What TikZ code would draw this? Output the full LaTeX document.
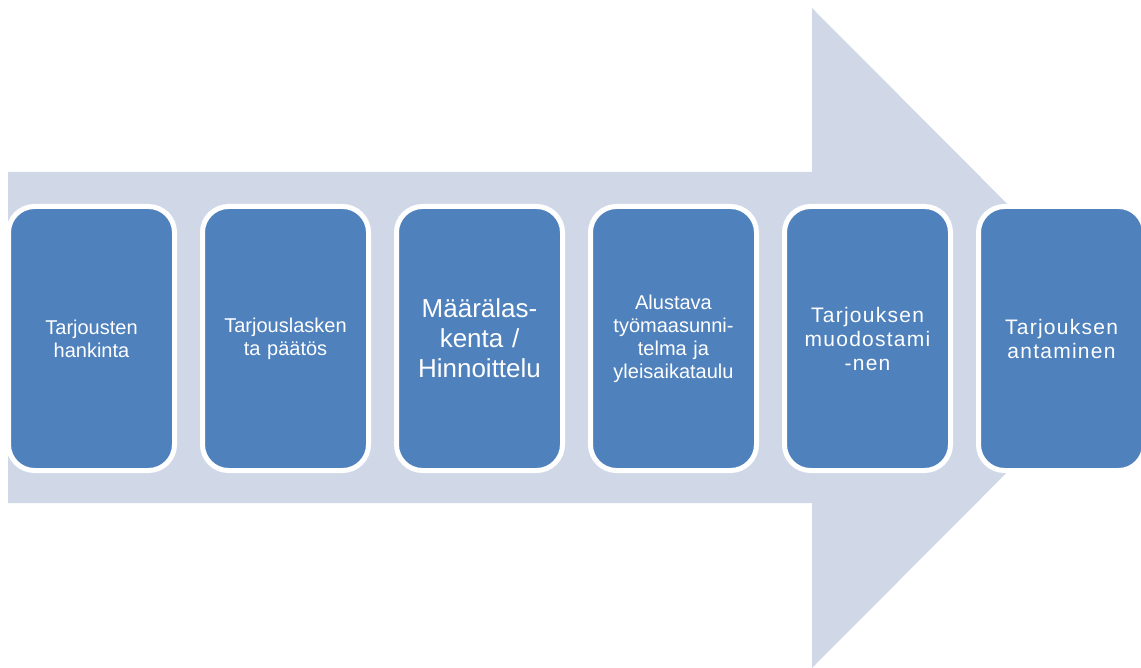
\documentclass[tikz,border=0pt]{standalone}
\usepackage{fontspec}
\setmainfont{Liberation Sans}
\usetikzlibrary{positioning}
\definecolor{arrowgrey}{HTML}{D0D8E8}
\definecolor{boxblue}{HTML}{4F81BD}
\tikzset{
  phase/.style={draw=white, line width=5pt, fill=boxblue, rounded corners=26pt,
    minimum width=166pt, minimum height=264pt, inner sep=0pt, outer sep=0pt,
    text=white, align=center, text width=152pt, font=\fontsize{20}{23}\selectfont},
  wide/.style={font=\fontsize{21}{24}\selectfont\addfontfeatures{LetterSpace=6}}
}

\begin{document}
\begin{tikzpicture}[x=1pt,y=-1pt,node distance=28pt]
      \clip (0,0) rectangle (1141,668);
      \def\xbody{812}  % start of arrow head
      \def\ytop{172}   % top of arrow body
      \def\ybot{503}   % bottom of arrow body
      \fill[arrowgrey] (8,\ytop) -- (\xbody,\ytop) -- (\xbody,8) -- (1141,338)
        -- (\xbody,668) -- (\xbody,\ybot) -- (8,\ybot) -- cycle;
      %
      \node[phase] (s1) at (91.5,338.5) {Tarjousten\\hankinta};
      \node[phase, right=of s1] (s2) {Tarjouslasken\\ta päätös};
      \node[phase, right=of s2, font=\fontsize{26}{30}\selectfont] (s3) {Määrälas-\\kenta /\\Hinnoittelu};
      \node[phase, right=of s3] (s4) {Alustava\\työmaasunni-\\telma ja\\yleisaikataulu};
      \node[phase, wide, right=of s4] (s5) {Tarjouksen\\muodostami\\-nen};
      \node[phase, wide, right=of s5] (s6) {Tarjouksen\\antaminen};
    \end{tikzpicture}
\end{document}
